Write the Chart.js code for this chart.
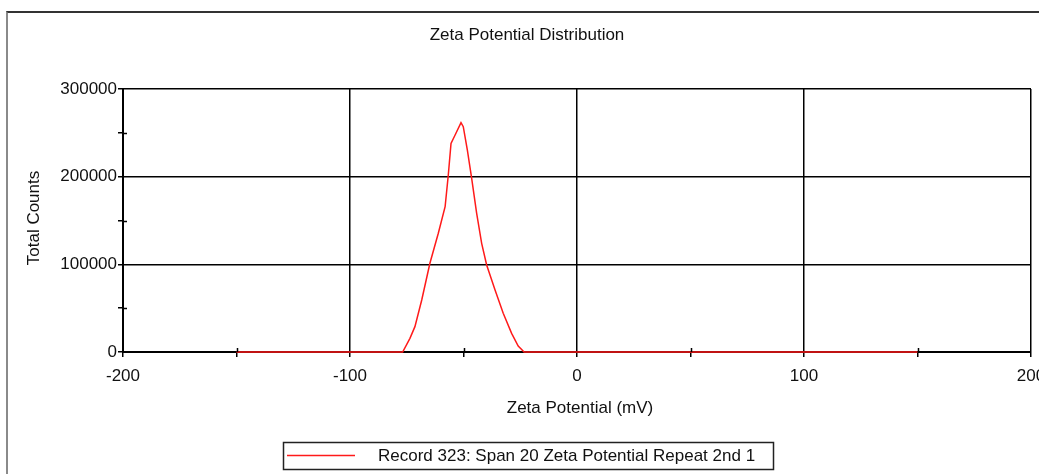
<!DOCTYPE html>
<html>
<head>
<meta charset="utf-8">
<script src="https://cdn.jsdelivr.net/npm/chart.js@4.4.0/dist/chart.umd.min.js"></script>
<style>
  html, body { margin: 0; padding: 0; background: #fff; overflow: hidden; }
  #frame { position: absolute; left: 6px; top: 11px; width: 1100px; height: 520px;
           border-left: 2px solid #8a8a8a; border-top: 2px solid #333; }
  #wrap { position: absolute; left: 0; top: 0; width: 1039px; height: 474px; }
</style>
</head>
<body>
<div id="frame"></div>
<div id="wrap"><canvas id="c" width="1039" height="474"></canvas></div>
<script>
// ---- data ----
const chartTitle = "Zeta Potential Distribution";
const xAxisTitle = "Zeta Potential (mV)";
const yAxisTitle = "Total Counts";
const seriesLabel = "Record 323: Span 20 Zeta Potential Repeat 2nd 1";

const zeta   = [-150, -76.8, -73.6, -71.4, -68.4, -64.8, -61.1, -58.1, -56.7, -55.5, -53.7, -51.1, -50.1, -48.3, -46.4, -44.2, -42.0, -39.8, -36.1, -32.5, -28.8, -25.9, -23.3, 150];
const counts = [0, 0, 15600, 28900, 59300, 101200, 135400, 165700, 201900, 238000, 247500, 261600, 257000, 230400, 198100, 158200, 124000, 99200, 70700, 44100, 21300, 6800, 0, 0];

const xMin = -200, xMax = 200, xMajor = 100, xMinor = 50;
const yMin = 0, yMax = 300000, yMajor = 100000, yMinor = 50000;

const FONT = '"Liberation Sans", Arial, sans-serif';
const FS = 17;

const points = zeta.map((v, i) => ({ x: v, y: counts[i] }));

const decorPlugin = {
  id: 'decor',
  afterDraw(chart) {
    const ctx = chart.ctx;
    const xs = chart.scales.x, ys = chart.scales.y;
    const area = chart.chartArea;
    ctx.save();
    // inward half of minor ticks
    ctx.strokeStyle = '#000';
    ctx.lineWidth = 1.5;
    ctx.beginPath();
    for (let v = xMin; v <= xMax; v += xMinor) {
      if (v % xMajor === 0) continue;
      const px = Math.round(xs.getPixelForValue(v)) + 0.5;
      ctx.moveTo(px, area.bottom);
      ctx.lineTo(px, area.bottom - 4);
    }
    for (let v = yMin; v <= yMax; v += yMinor) {
      if (v % yMajor === 0) continue;
      const py = Math.round(ys.getPixelForValue(v)) + 0.5;
      ctx.moveTo(area.left, py);
      ctx.lineTo(area.left + 4, py);
    }
    ctx.stroke();

    ctx.fillStyle = '#111';
    ctx.font = FS + 'px ' + FONT;
    ctx.textAlign = 'center';
    ctx.textBaseline = 'middle';
    ctx.fillText(chartTitle, 527, 35);
    ctx.fillText(xAxisTitle, 580, 408);

    ctx.save();
    ctx.translate(34, 218);
    ctx.rotate(-Math.PI / 2);
    ctx.fillText(yAxisTitle, 0, 0);
    ctx.restore();

    // legend box
    ctx.strokeStyle = '#222';
    ctx.lineWidth = 1.5;
    ctx.strokeRect(283.5, 442.5, 490, 27);
    ctx.strokeStyle = '#ff1a1a';
    ctx.lineWidth = 1.5;
    ctx.beginPath();
    ctx.moveTo(287, 455.5);
    ctx.lineTo(355, 455.5);
    ctx.stroke();
    ctx.textAlign = 'left';
    ctx.fillText(seriesLabel, 378, 456);
    ctx.restore();
  }
};

new Chart(document.getElementById('c'), {
  type: 'line',
  data: {
    datasets: [{
      label: seriesLabel,
      data: points,
      borderColor: '#ff1a1a',
      borderWidth: 1.5,
      pointRadius: 0,
      tension: 0,
      fill: false,
      clip: 3
    }]
  },
  options: {
    responsive: false,
    animation: false,
    layout: { padding: { left: 0, top: 89, right: 8, bottom: 0 } },
    plugins: { legend: { display: false }, title: { display: false }, tooltip: { enabled: false } },
    scales: {
      x: {
        type: 'linear', min: xMin, max: xMax,
        afterFit(s) { s.height = 122; s.paddingLeft = 0; s.paddingRight = 0; },
        ticks: {
          stepSize: xMinor, autoSkip: false, maxRotation: 0, padding: 9,
          color: '#111', font: { family: FONT, size: FS },
          callback: v => (v % xMajor === 0 ? String(v) : '')
        },
        grid: {
          color: c => (c.tick && c.tick.value % xMajor === 0 ? '#000' : 'rgba(0,0,0,0)'),
          tickColor: '#000', tickLength: 5, lineWidth: 1.5, drawTicks: true
        },
        border: { display: true, color: '#000', width: 2 }
      },
      y: {
        type: 'linear', min: yMin, max: yMax,
        afterFit(s) { s.width = 123; s.paddingTop = 0; s.paddingBottom = 0; },
        ticks: {
          stepSize: yMinor, autoSkip: false, padding: 1,
          color: '#111', font: { family: FONT, size: FS },
          callback: v => (v % yMajor === 0 ? String(v) : '')
        },
        grid: {
          color: c => (c.tick && c.tick.value % yMajor === 0 ? '#000' : 'rgba(0,0,0,0)'),
          tickColor: '#000', tickLength: 5, lineWidth: 1.5, drawTicks: true
        },
        border: { display: true, color: '#000', width: 2 }
      }
    }
  },
  plugins: [decorPlugin]
});
</script>
</body>
</html>
